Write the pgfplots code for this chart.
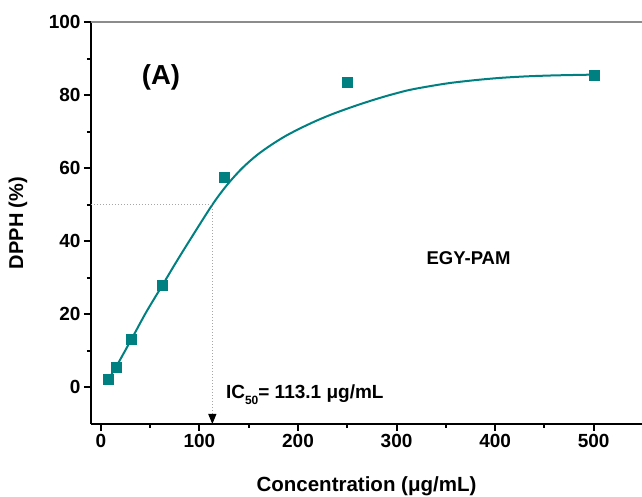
\documentclass[border=0pt]{standalone}
\usepackage{fontspec}
\setmainfont{Liberation Sans}
\usepackage{pgfplots}
\pgfplotsset{compat=1.18}
\usetikzlibrary{arrows.meta,calc}
\definecolor{Teal}{RGB}{0,128,128}

\begin{document}
\begin{tikzpicture}
\begin{axis}[
  name=ax,
  scale only axis, width=551pt, height=402pt,
  xmin=-10, xmax=549, ymin=-10, ymax=100,
  axis x line*=bottom, axis y line*=left,
  axis line style={line width=2.5pt, -},
  xtick={0,100,...,500}, ytick={0,20,...,100},
  minor xtick={50,150,...,450}, minor ytick={10,30,...,90},
  tick align=outside,
  major tick length=7pt, minor tick length=4pt,
  every tick/.append style={black, line width=2pt},
  tick label style={font=\fontsize{19}{22}\selectfont\bfseries},
  /pgf/number format/assume math mode=true,
  clip=false,
]
% fitted curve
\addplot[Teal, line width=2pt, smooth, tension=0.5] coordinates {
  (7.8,2.3) (15.6,5.7) (31.25,13.3) (46,20.6) (62.5,28) (76,34.1) (90,40.2)
  (113.1,50) (128,55.4) (143,59.9) (158,63.5) (173,66.4) (188,68.9)
  (203,71.0) (218,72.9) (233,74.6) (248,76.1) (263,77.5) (278,78.8)
  (293,80.0) (313,81.4) (333,82.4) (354,83.3) (380,84.1) (405,84.7)
  (430,85.1) (455,85.35) (480,85.5) (500,85.6)
};
% measured points
\addplot[only marks, mark=square*, mark size=5pt, Teal] coordinates {
  (7.8,2.2) (15.6,5.6) (31.25,13.3) (62.5,28) (125,57.4) (250,83.4) (500,85.5)
};
% IC50 guide
\addplot[gray!70, dotted, line width=1pt, -{Triangle[black, width=8pt, length=10pt]}]
  coordinates {(-10,50) (113.1,50) (113.1,-10)};

\draw[gray!90, line width=1.5pt] (rel axis cs:0,1) -- (rel axis cs:1,1);

\node[font=\fontsize{27.5}{30}\selectfont\bfseries] at (axis cs:61,84.8) {(A)};
\node[font=\fontsize{18.5}{22}\selectfont\bfseries] at (axis cs:373,35.5) {EGY-PAM};
\node[font=\fontsize{19}{22}\selectfont\bfseries, anchor=west, inner sep=0pt]
  at (axis cs:126.8,-1.9) {IC\raisebox{-6pt}{\fontsize{12}{12}\selectfont 50}= 113.1 μg/mL};
\end{axis}

\node[rotate=90, font=\fontsize{20}{24}\selectfont\bfseries] at ($(ax.west)+(-73pt,0)$) {DPPH (\%)};
\node[font=\fontsize{20.5}{24}\selectfont\bfseries] at ($(ax.south)+(0,-62pt)$) {Concentration (μg/mL)};

\pgfresetboundingbox
\path ($(ax.south west)+(-91pt,-73pt)$) rectangle ($(ax.north east)+(0pt,22pt)$);
\end{tikzpicture}
\end{document}
